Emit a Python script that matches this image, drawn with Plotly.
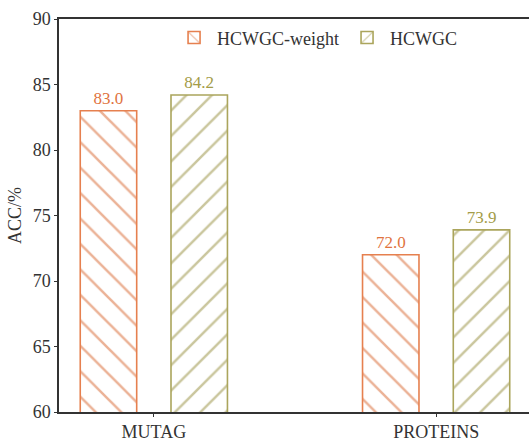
import plotly.graph_objects as go

categories = ["MUTAG", "PROTEINS"]
series_names = ["HCWGC-weight", "HCWGC"]
hcwgc_weight = [83.0, 72.0]
hcwgc = [84.2, 73.9]
y_ticks = [60, 65, 70, 75, 80, 85, 90]

orange = "#E6804F"
olive = "#ABA55C"
orange_pat = "#D8652E"
olive_pat = "#958E3C"
orange_txt = "#DF7340"
olive_txt = "#A39C48"
font_family = "Liberation Serif, Times New Roman, serif"

fig = go.Figure()
fig.add_trace(go.Bar(
    x=categories, y=hcwgc_weight, name=series_names[0],
    marker=dict(color="white", line=dict(color=orange, width=1.6),
                pattern=dict(shape="\\", fgcolor=orange_pat, bgcolor="white", size=18, solidity=0.14)),
    texttemplate="%{y:.1f}", textposition="outside",
    textfont=dict(color=orange_txt, size=17, family=font_family),
    cliponaxis=False,
))
fig.add_trace(go.Bar(
    x=categories, y=hcwgc, name=series_names[1],
    marker=dict(color="white", line=dict(color=olive, width=1.6),
                pattern=dict(shape="/", fgcolor=olive_pat, bgcolor="white", size=18, solidity=0.14)),
    texttemplate="%{y:.1f}", textposition="outside",
    textfont=dict(color=olive_txt, size=17, family=font_family),
    cliponaxis=False,
))

fig.update_layout(
    width=531, height=441,
    margin=dict(l=59, r=2, t=19, b=29, autoexpand=False),
    paper_bgcolor="white", plot_bgcolor="white",
    barmode="group", bargap=0.357, bargroupgap=0.378,
    font=dict(family=font_family, size=18, color="#333333"),
    showlegend=True,
    legend=dict(orientation="h", x=0.548, y=0.952, xanchor="center", yanchor="middle",
                bgcolor="rgba(0,0,0,0)", font=dict(size=18, color="#333333"),
                itemwidth=36, traceorder="normal"),
    xaxis=dict(range=[-0.336, 1.329], showline=True, linecolor="#333333", linewidth=1.5,
               mirror=True, ticks="outside", ticklen=3, tickcolor="#333333", automargin=False,
               showgrid=False, zeroline=False, tickfont=dict(size=18)),
    yaxis=dict(range=[60, 90], tickvals=y_ticks, showline=True, linecolor="#333333",
               linewidth=1.5, ticks="outside", ticklen=3, tickcolor="#333333", automargin=False,
               showgrid=False, zeroline=False, tickfont=dict(size=18),
               title=dict(text="ACC/%", font=dict(size=18), standoff=6)),
)

fig.write_html("out.html", config={"displayModeBar": False},
               post_script="document.body.style.margin='0';document.body.style.overflow='hidden';")
